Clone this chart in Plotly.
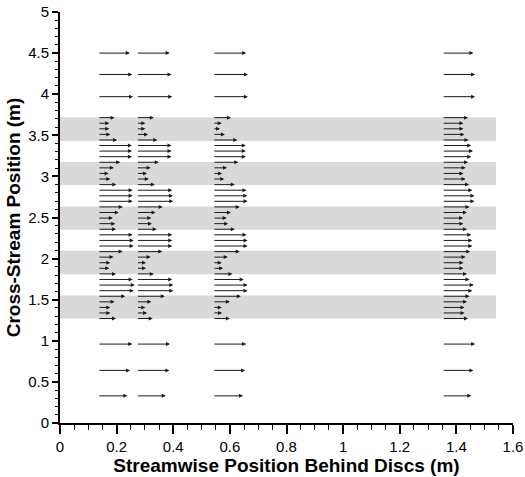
import plotly.graph_objects as go

# Streamwise stations of the velocity profiles (m behind the discs)
stations = [0.134, 0.270, 0.540, 1.350]

# Cross-stream measurement rows inside the disc array (m)
y_dense = [3.715, 3.647, 3.579, 3.511, 3.443, 3.376, 3.308, 3.240, 3.172,
           3.104, 3.036, 2.968, 2.900, 2.832, 2.764, 2.697, 2.629, 2.561,
           2.493, 2.425, 2.357, 2.289, 2.221, 2.153, 2.085, 2.018, 1.950,
           1.882, 1.814, 1.746, 1.678, 1.610, 1.542, 1.474, 1.406, 1.339,
           1.271]

# Free-stream rows above and below the array (m)
y_outer = [4.50, 4.24, 3.97, 0.96, 0.64, 0.33]

# Normalised streamwise velocity u/U0 at each station, dense rows
u_dense = [
    [0.47, 0.32, 0.32, 0.35, 0.54, 0.96, 0.96, 0.96, 0.63, 0.45, 0.30, 0.35,
     0.52, 0.98, 0.98, 0.98, 0.70, 0.59, 0.42, 0.49, 0.51, 0.98, 1.01, 1.01,
     0.70, 0.44, 0.35, 0.32, 0.51, 0.98, 1.04, 1.01, 0.77, 0.47, 0.35, 0.35,
     0.51],
    [0.49, 0.25, 0.25, 0.33, 0.59, 0.99, 0.99, 0.99, 0.63, 0.40, 0.30, 0.35,
     0.52, 1.01, 1.03, 1.04, 0.74, 0.54, 0.42, 0.44, 0.57, 1.01, 1.01, 1.01,
     0.73, 0.40, 0.27, 0.27, 0.49, 1.01, 1.04, 1.04, 0.80, 0.42, 0.25, 0.30,
     0.46],
    [0.51, 0.25, 0.20, 0.34, 0.69, 0.93, 0.93, 0.93, 0.72, 0.40, 0.26, 0.32,
     0.62, 0.95, 0.97, 0.98, 0.76, 0.51, 0.39, 0.43, 0.62, 0.95, 0.98, 0.98,
     0.76, 0.42, 0.25, 0.29, 0.55, 0.87, 0.98, 0.98, 0.79, 0.48, 0.25, 0.26,
     0.48],
    [0.73, 0.60, 0.60, 0.63, 0.74, 0.82, 0.87, 0.82, 0.73, 0.66, 0.60, 0.66,
     0.76, 0.85, 0.91, 0.91, 0.77, 0.70, 0.59, 0.60, 0.70, 0.82, 0.85, 0.85,
     0.79, 0.66, 0.60, 0.60, 0.70, 0.77, 0.89, 0.85, 0.77, 0.70, 0.63, 0.63,
     0.73],
]

# Normalised velocity at the free-stream rows
u_outer = [
    [0.90, 0.97, 0.99, 0.97, 0.91, 0.83],
    [0.94, 0.99, 1.01, 0.95, 0.93, 0.83],
    [0.94, 0.99, 0.99, 0.94, 0.91, 0.85],
    [0.88, 0.93, 0.93, 0.93, 0.88, 0.82],
]

# Cross-stream extent of each disc row (m)
disc_lo = [3.43, 2.895, 2.352, 1.810, 1.270]
disc_hi = [3.72, 3.175, 2.633, 2.094, 1.550]
disc_x_end = 1.54

# Vector length in metres per unit of u/U0
ARROW_SCALE = 0.125

FONT = "Liberation Sans, Arial, Helvetica, sans-serif"

fig = go.Figure()

# invisible trace so the axes are drawn
fig.add_trace(go.Scatter(x=[0, 1.6], y=[0, 5], mode="markers",
                         marker=dict(opacity=0), hoverinfo="skip",
                         showlegend=False))

shapes = []
for lo, hi in zip(disc_lo, disc_hi):
    shapes.append(dict(type="rect", xref="x", yref="y", x0=0, x1=disc_x_end,
                       y0=lo, y1=hi, fillcolor="#d9d9d9",
                       line=dict(width=0), layer="below"))

annotations = []


def add_vector(x0, y0, u):
    annotations.append(dict(
        x=x0 + u * ARROW_SCALE, y=y0, ax=x0, ay=y0,
        xref="x", yref="y", axref="x", ayref="y",
        text="", showarrow=True, arrowhead=2, arrowsize=0.8,
        arrowwidth=1, arrowcolor="#1a1a1a", standoff=0, startstandoff=0))


for xs, ud, uo in zip(stations, u_dense, u_outer):
    for y, u in zip(y_dense, ud):
        add_vector(xs, y, u)
    for y, u in zip(y_outer, uo):
        add_vector(xs, y, u)

axis_common = dict(
    showgrid=False, zeroline=False, showline=True, linecolor="black",
    linewidth=2, ticks="outside", tickcolor="black", tickwidth=1.5,
    tickfont=dict(family=FONT, size=15, color="black"),
    automargin=False,
)

fig.update_layout(
    width=525, height=477,
    margin=dict(l=60, r=12, t=12, b=54),
    paper_bgcolor="white", plot_bgcolor="white",
    shapes=shapes, annotations=annotations,
    xaxis=dict(range=[0, 1.6], dtick=0.2, ticklen=9,
               minor=dict(dtick=0.05, ticklen=5, ticks="outside",
                          tickcolor="black", tickwidth=1.2),
               title=dict(text="<b>Streamwise Position Behind Discs (m)</b>",
                          font=dict(family=FONT, size=19, color="black"),
                          standoff=0),
               **axis_common),
    yaxis=dict(range=[0, 5], dtick=0.5, ticklen=6,
               minor=dict(dtick=0.1, ticklen=3, ticks="outside",
                          tickcolor="black", tickwidth=1.2),
               title=dict(text="<b>Cross-Stream Position (m)</b>",
                          font=dict(family=FONT, size=19, color="black"),
                          standoff=2),
               **axis_common),
)

fig.write_html("out.html")
